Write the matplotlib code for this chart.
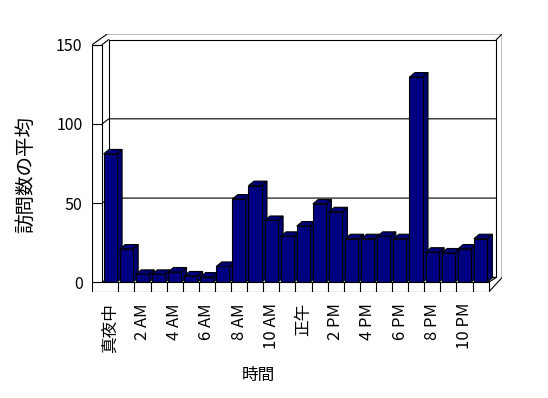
import matplotlib
matplotlib.use("Agg")
import matplotlib.pyplot as plt
from matplotlib.patches import Polygon, Rectangle

plt.rcParams['font.family'] = ['Noto Sans CJK JP', 'DejaVu Sans']

# average visits per hour (0..23)
hours = list(range(24))
visits = [81, 21, 5, 5, 6.5, 4, 3.3, 10, 52.5, 61, 39, 29,
          35.5, 49.5, 44.5, 27.5, 27.5, 29, 27.5, 129.5, 19, 18.5, 21, 27.5]
tick_labels = ['真夜中', '2 AM', '4 AM', '6 AM', '8 AM', '10 AM',
               '正午', '2 PM', '4 PM', '6 PM', '8 PM', '10 PM']
y_ticks = [0, 50, 100, 150]

navy = '#000080'
lw = 0.8

fig = plt.figure(figsize=(5.48, 3.98), dpi=100)
ax = fig.add_axes([0.1684, 0.2663, 0.7482, 0.649])
ax.set_xlim(-0.621, 24.845)
ax.set_ylim(-6.12, 156.85)
for s in ax.spines.values():
    s.set_visible(False)

# depth offsets (data units)
wdx, wdy = 0.40, 3.15   # walls
bdx, bdy = 0.34, 2.84   # bars
n = len(hours)
ymax = y_ticks[-1]

# outer box outline
outer = Polygon([(-0.621, ymax), (0.335, 156.85), (24.845, 156.85),
                 (24.845, wdy), (n, -6.12), (-0.621, -6.12)],
                closed=True, fc='white', ec='black', lw=lw, zorder=1)
ax.add_patch(outer)
# back wall face
ax.add_patch(Rectangle((wdx, wdy), n + 0.48 - wdx, ymax, fc='white',
                       ec='black', lw=lw, zorder=1.1))
ax.plot([n + 0.48, 24.845], [ymax + wdy, 156.85], color='black', lw=lw, zorder=1.2)
# gridlines on left wall and back wall
for v in y_ticks[:-1]:
    ax.plot([0, wdx, n + 0.48], [v, v + wdy, v + wdy], color='black', lw=lw, zorder=1.2)
ax.plot([0, wdx], [ymax, ymax + wdy], color='black', lw=lw, zorder=1.2)
# left wall front face
ax.add_patch(Rectangle((-0.621, -6.12), 0.621, ymax + 6.12, fc='white',
                       ec='black', lw=lw, zorder=1.3))
for v in y_ticks[1:]:
    ax.plot([-0.621, 0], [v, v], color='black', lw=lw, zorder=1.4)
# floor right side
ax.plot([n, n + 0.48], [0, wdy], color='black', lw=lw, zorder=1.2)

# bars
bars = ax.bar([h + 0.485 for h in hours], visits, width=0.81, color=navy,
              edgecolor='black', linewidth=lw)
for i, (b, v) in enumerate(zip(bars, visits)):
    x0 = b.get_x()
    x1 = x0 + b.get_width()
    z = 3 + i * 0.1
    top = Polygon([(x0, v), (x0 + bdx, v + bdy), (x1 + bdx, v + bdy), (x1, v)],
                  closed=True, fc='#000078', ec='black', lw=lw, zorder=z)
    side = Polygon([(x1, 0), (x1, v), (x1 + bdx, v + bdy), (x1 + bdx, bdy)],
                   closed=True, fc='#000070', ec='black', lw=lw, zorder=z)
    ax.add_patch(side)
    ax.add_patch(top)
    b.set_zorder(z + 0.05)

# floor front face
ax.add_patch(Rectangle((-0.621, -6.12), n + 0.621, 6.12, fc='white',
                       ec='black', lw=lw, zorder=6))
for h in hours[1:]:
    ax.plot([h, h], [-6.12, 0], color='black', lw=lw, zorder=6.1)

ax.set_yticks(y_ticks)
ax.set_yticklabels([str(t) for t in y_ticks], fontsize=11.5)
ax.set_xticks([h + 0.5 for h in hours[::2]])
ax.set_xticklabels(tick_labels, rotation=90, fontsize=12, va='top')
ax.tick_params(axis='both', length=0)
ax.tick_params(axis='y', pad=7)
ax.tick_params(axis='x', pad=8)

fig.text(25.8 / 548, 1 - 175 / 398, '訪問数の平均', rotation=90, ha='center',
         va='center', fontsize=14)
fig.text(258 / 548, 1 - 375.5 / 398, '時間', ha='center', va='center', fontsize=12)

fig.savefig('out.png', dpi=100, facecolor='white')
